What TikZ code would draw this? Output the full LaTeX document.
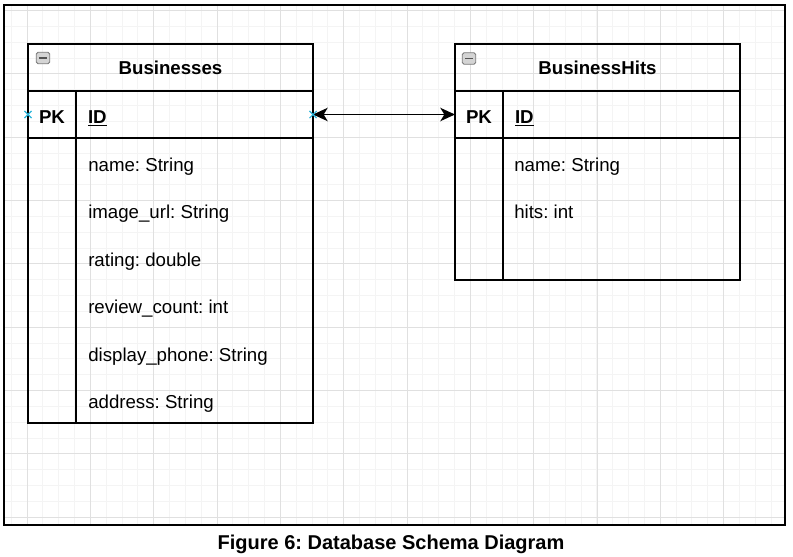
\documentclass[tikz,border=0pt]{standalone}
\usepackage{fontspec}
\setmainfont{Liberation Sans}
\frenchspacing
\usetikzlibrary{arrows.meta,positioning,calc,shapes.misc}
\definecolor{gridminor}{HTML}{F4F4F4}
\definecolor{gridmajor}{HTML}{E0E0E0}
\definecolor{xblue}{HTML}{2BB5DB}
\definecolor{iconfill}{HTML}{D4D4D4}
\definecolor{icongray}{HTML}{767676}

\begin{document}
\begin{tikzpicture}[
    x=0.75pt, y=-0.75pt,
    cell/.style={draw, line width=1.2pt, outer sep=0pt, inner sep=0pt, minimum height=35.25pt},
    headcell/.style={cell, minimum width=213.75pt, font=\bfseries\fontsize{14}{17}\selectfont},
    keycell/.style={cell, minimum width=36pt, text height=13pt, text depth=0pt, font=\bfseries\fontsize{14}{17}\selectfont},
    fieldcell/.style={cell, text width=159.75pt, inner xsep=9pt, align=left, text height=13pt, text depth=0pt, font=\bfseries\fontsize{14}{17}\selectfont},
    fieldtext/.style={anchor=base west, inner sep=0pt, font=\fontsize{14}{17}\selectfont},
    icon/.style={draw=icongray, fill=iconfill, rounded corners=1.2pt, minimum width=10pt, minimum height=8.5pt, inner sep=0pt, line width=0.6pt,
      path picture={\draw[icongray!70!black, line width=1.4pt] ($(path picture bounding box.west)+(2.2pt,0)$) -- ($(path picture bounding box.east)+(-2.2pt,0)$);}},
    xmark/.style={cross out, draw=xblue, minimum size=4.5pt, inner sep=0pt, line width=0.8pt},
    link/.style={{Stealth[length=11pt, width=10pt, inset=3pt]}-{Stealth[length=11pt, width=10pt, inset=3pt]}, line width=1.3pt},
    caption/.style={font=\bfseries\fontsize{15}{18}\selectfont}
  ]
    \useasboundingbox (0,0) rectangle (793,557);

    % background grid
    \begin{scope}
      \clip (4,5) rectangle (785,525);
      \foreach \gx in {0,...,48} \draw[gridminor, line width=0.6pt] ({11.17+15.83*\gx},5) -- ({11.17+15.83*\gx},525);
      \foreach \gy in {0,...,32} \draw[gridminor, line width=0.6pt] (4,{10.5+15.83*\gy}) -- (785,{10.5+15.83*\gy});
      \foreach \gx in {0,...,11} \draw[gridmajor, line width=0.6pt] ({27+63.33*\gx},5) -- ({27+63.33*\gx},525);
      \foreach \gy in {0,...,8} \draw[gridmajor, line width=0.6pt] (4,{10.5+63.33*\gy}) -- (785,{10.5+63.33*\gy});
    \end{scope}
    \draw[line width=1pt] (4,5) rectangle (785,525);

    % Businesses table
    \node[headcell, anchor=north west] (bizhead) at (28,44) {Businesses};
    \node[icon] (bizicon) at (43,58) {};
    \node[keycell, anchor=north west] (bizpk) at (bizhead.south west) {PK};
    \node[fieldcell, anchor=north west] (bizid) at (bizpk.north east) {\underline{ID}};
    \node[keycell, minimum height=213.75pt, anchor=north west] (bizkeys) at (bizpk.south west) {};
    \node[fieldcell, minimum height=213.75pt, anchor=north west] (bizbody) at (bizid.south west) {};
    \node[fieldtext] (bizname) at (88,171) {name: String};
    \node[fieldtext] (bizimage) at (88,218.5) {image\_url: String};
    \node[fieldtext] (bizrating) at (88,266) {rating: double};
    \node[fieldtext] (bizreviews) at (88,313.5) {review\_count: int};
    \node[fieldtext] (bizphone) at (88,361) {display\_phone: String};
    \node[fieldtext] (bizaddress) at (88,408.5) {address: String};

    % BusinessHits table
    \node[headcell, anchor=north west] (hitshead) at (455,44) {BusinessHits};
    \node[icon] (hitsicon) at (469,58.5) {};
    \node[keycell, anchor=north west] (hitspk) at (hitshead.south west) {PK};
    \node[fieldcell, anchor=north west] (hitsid) at (hitspk.north east) {\underline{ID}};
    \node[keycell, minimum height=106.5pt, anchor=north west] (hitskeys) at (hitspk.south west) {};
    \node[fieldcell, minimum height=106.5pt, anchor=north west] (hitsbody) at (hitsid.south west) {};
    \node[fieldtext] (hitsname) at (514,171) {name: String};
    \node[fieldtext] (hitscount) at (514,218.5) {hits: int};

    \draw[link] (bizid.east) -- (hitspk.west);
    \node[xmark] (bizmarkl) at (bizpk.west) {};
    \node[xmark] (bizmarkr) at (bizid.east) {};

    \node[caption] (figcaption) at (391,544) {Figure 6: Database Schema Diagram};
  \end{tikzpicture}
\end{document}
